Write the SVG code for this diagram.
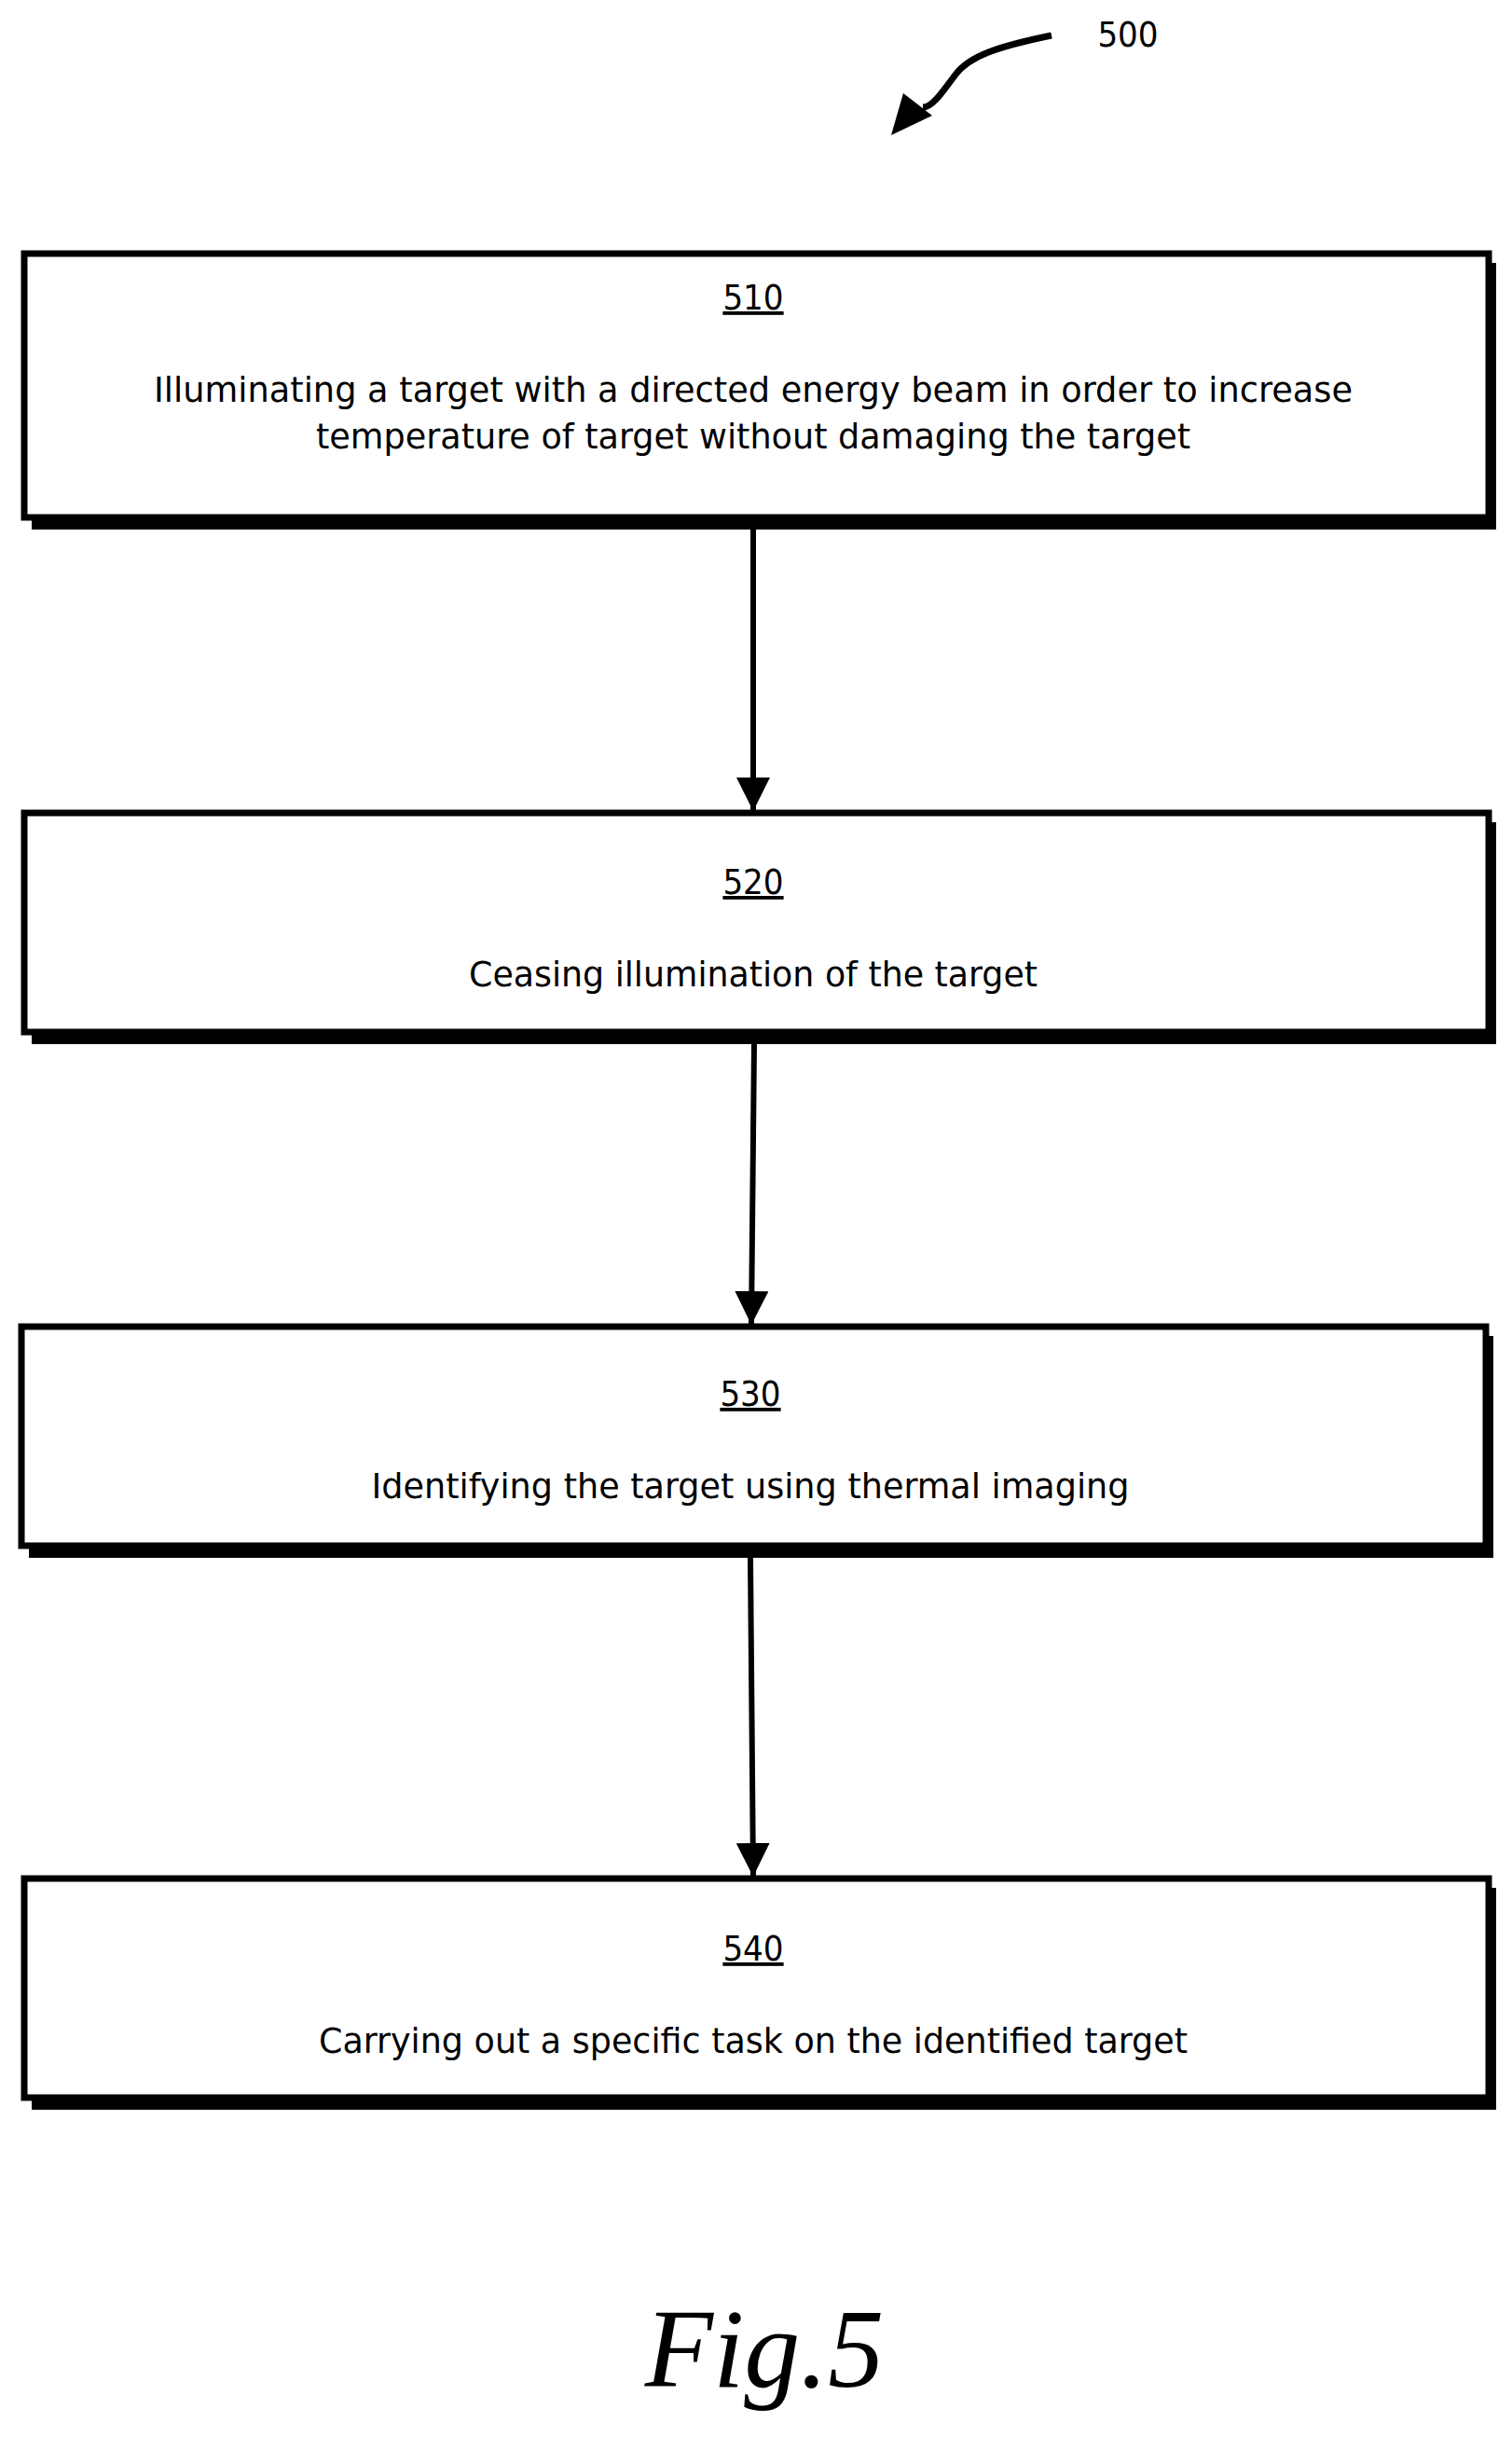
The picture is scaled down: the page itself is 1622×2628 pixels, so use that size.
<svg xmlns="http://www.w3.org/2000/svg" width="1622" height="2628" viewBox="0 0 1622 2628">
<style>
.box{fill:#fff;stroke:#000;stroke-width:7}
.sh{fill:#000}
.t{font-family:"DejaVu Sans Condensed","DejaVu Sans",sans-serif;font-size:38px;fill:#000;text-anchor:middle}
.lab{text-decoration:underline}
.c{stroke:#000;stroke-width:6;fill:none}
</style>
<defs>
<marker id="ah" viewBox="0 0 10 10" refX="10" refY="5" markerWidth="6" markerHeight="6" markerUnits="strokeWidth" orient="auto">
<path d="M0,0 L10,5 L0,10 z" fill="#000"/>
</marker>
</defs>
<rect width="1622" height="2628" fill="#fff"/>
<g id="ref500">
<text class="t" x="1210" y="50">500</text>
<path d="M1128,38 C1070,50 1040,60 1025,80 C1010,100 1000,115 990,115" fill="none" stroke="#000" stroke-width="7"/>
<path d="M969,100 L1000,124 L956,145 z" fill="#000"/>
</g>
<g id="n510">
<rect class="sh" x="34" y="282" width="1571" height="286"/>
<rect class="box" x="26" y="272" width="1571" height="283"/>
<text class="t lab" x="808" y="332">510</text>
<text class="t" x="808" y="431" textLength="1286" lengthAdjust="spacingAndGlyphs">Illuminating a target with a directed energy beam in order to increase</text>
<text class="t" x="808" y="481" textLength="938" lengthAdjust="spacingAndGlyphs">temperature of target without damaging the target</text>
</g>
<g id="n520">
<rect class="sh" x="34" y="882" width="1571" height="238"/>
<rect class="box" x="26" y="872" width="1571" height="235"/>
<text class="t lab" x="808" y="959">520</text>
<text class="t" x="808" y="1058" textLength="610" lengthAdjust="spacingAndGlyphs">Ceasing illumination of the target</text>
</g>
<g id="n530">
<rect class="sh" x="31" y="1433" width="1571" height="238"/>
<rect class="box" x="23" y="1423" width="1571" height="235"/>
<text class="t lab" x="805" y="1508">530</text>
<text class="t" x="805" y="1607" textLength="813" lengthAdjust="spacingAndGlyphs">Identifying the target using thermal imaging</text>
</g>
<g id="n540">
<rect class="sh" x="34" y="2025" width="1571" height="238"/>
<rect class="box" x="26" y="2015" width="1571" height="235"/>
<text class="t lab" x="808" y="2103">540</text>
<text class="t" x="808" y="2202" textLength="932" lengthAdjust="spacingAndGlyphs">Carrying out a specific task on the identified target</text>
</g>
<g id="connectors">
<path class="c" d="M808,568 L808,870" marker-end="url(#ah)"/>
<path class="c" d="M809,1120 L806,1421" marker-end="url(#ah)"/>
<path class="c" d="M805,1671 L808,2013" marker-end="url(#ah)"/>
</g>
<text x="820" y="2560" font-family="Liberation Serif, serif" font-style="italic" font-size="120" text-anchor="middle">Fig.5</text>
</svg>
